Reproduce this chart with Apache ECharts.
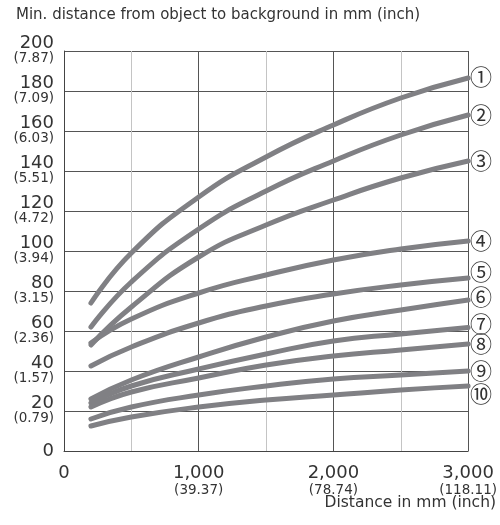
<!DOCTYPE html>
<html>
<head>
<meta charset="utf-8">
<script src="https://cdn.jsdelivr.net/npm/echarts@6/dist/echarts.min.js"></script>
<style>
  html, body { margin: 0; padding: 0; background: #fff; }
  #main { width: 500px; height: 525px; }
</style>
</head>
<body>
<div id="main"></div>
<script>
// distance in mm where each curve is read
var distances = [200, 500, 1000, 1500, 2000, 2500, 3000];

// min. distance object -> background (mm), curves 1..10
var curve1 = [74, 99, 127, 147, 163, 176.5, 186.5];
var curve2 = [62, 84.5, 111, 130, 145, 158, 168];
var curve3 = [53, 72, 97, 113, 125.5, 136.5, 145];
var curve4 = [54, 66, 79, 88, 95.5, 101, 105];
var curve5 = [42.5, 52, 64, 72.5, 78.5, 83, 86.5];
var curve6 = [26, 35.5, 47, 57, 65, 70.5, 75.5];
var curve7 = [24, 32.5, 41, 48.5, 55, 58.5, 61.8];
var curve8 = [22, 29.5, 36.5, 43, 47.5, 50.5, 53.5];
var curve9 = [16, 22, 28, 32.5, 36, 38, 40];
var curve10 = [12.5, 17, 22, 25.5, 28, 30.5, 32.5];

var curveNames = ['①', '②', '③', '④', '⑤', '⑥', '⑦', '⑧', '⑨', '⑩'];

// inch labels shown under the mm tick labels
var yInch = {20: '(0.79)', 40: '(1.57)', 60: '(2.36)', 80: '(3.15)', 100: '(3.94)',
  120: '(4.72)', 140: '(5.51)', 160: '(6.03)', 180: '(7.09)', 200: '(7.87)'};
var xInch = {1000: '(39.37)', 2000: '(78.74)', 3000: '(118.11)'};

var curves = [curve1, curve2, curve3, curve4, curve5, curve6, curve7, curve8, curve9, curve10];
// small vertical nudges so the circled numbers don't collide
var labelNudge = [-1, 0, 0, 0, -6, -3, -4, 0, 0, 8];

var font = 'DejaVu Sans';

var series = [];
for (var i = 0; i < curves.length; i++) {
  var pts = [];
  for (var j = 0; j < distances.length; j++) {
    pts.push([distances[j], curves[i][j]]);
  }
  series.push({
    name: curveNames[i],
    type: 'line',
    data: pts,
    smooth: 0.5,
    showSymbol: false,
    lineStyle: { color: '#808084', width: 5, cap: 'round' },
    endLabel: {
      show: true,
      formatter: (function (n) { return function () { return n; }; })(curveNames[i]),
      fontFamily: 'Noto Sans CJK SC',
      fontSize: 22,
      color: '#333',
      distance: 2,
      offset: [0, labelNudge[i]]
    },
    emphasis: { disabled: true },
    z: 3
  });
}

var myChart = echarts.init(document.getElementById('main'));
myChart.setOption({
  animation: false,
  backgroundColor: '#fff',
  grid: { left: 64, right: 27, top: 51, bottom: 74 },
  graphic: [{
    type: 'text',
    left: 16, top: 8,
    style: { text: 'Min. distance from object to background in mm (inch)', font: '15px ' + font, fill: '#333' }
  }, {
    type: 'text',
    right: 4, top: 495,
    style: { text: 'Distance in mm (inch)', font: '15.5px ' + font, fill: '#333' }
  }],
  xAxis: {
    type: 'value',
    min: 0, max: 3000, interval: 1000,
    axisLine: { show: true, onZero: false, lineStyle: { color: '#444', width: 1 } },
    axisTick: { show: false },
    minorTick: { show: false, splitNumber: 2 },
    minorSplitLine: { show: true, lineStyle: { color: '#c4c4c4', width: 1 } },
    splitLine: { show: true, lineStyle: { color: '#555', width: 1 } },
    axisLabel: {
      margin: 14,
      fontFamily: font,
      fontSize: 18,
      formatter: function (v) {
        if (!xInch[v]) return '{a|' + v + '}';
        return '{a|' + v.toLocaleString('en-US') + '}\n{b|' + xInch[v] + '}';
      },
      rich: {
        a: { fontFamily: font, fontSize: 18, color: '#333', lineHeight: 17 },
        b: { fontFamily: font, fontSize: 13.5, color: '#333', lineHeight: 16 }
      }
    }
  },
  yAxis: {
    type: 'value',
    min: 0, max: 200, interval: 20,
    axisLine: { show: true, lineStyle: { color: '#444', width: 1 } },
    axisTick: { show: false },
    splitLine: { show: true, lineStyle: { color: '#555', width: 1 } },
    axisLabel: {
      margin: 10,
      fontFamily: font,
      fontSize: 18,
      formatter: function (v) {
        if (!yInch[v]) return '{a|' + v + '}';
        return '{a|' + v + '}\n{b|' + yInch[v] + '}';
      },
      rich: {
        a: { fontFamily: font, fontSize: 18, color: '#333', lineHeight: 15, align: 'right' },
        b: { fontFamily: font, fontSize: 13.5, color: '#333', lineHeight: 16, align: 'right' }
      }
    }
  },
  series: series
});
</script>
</body>
</html>
